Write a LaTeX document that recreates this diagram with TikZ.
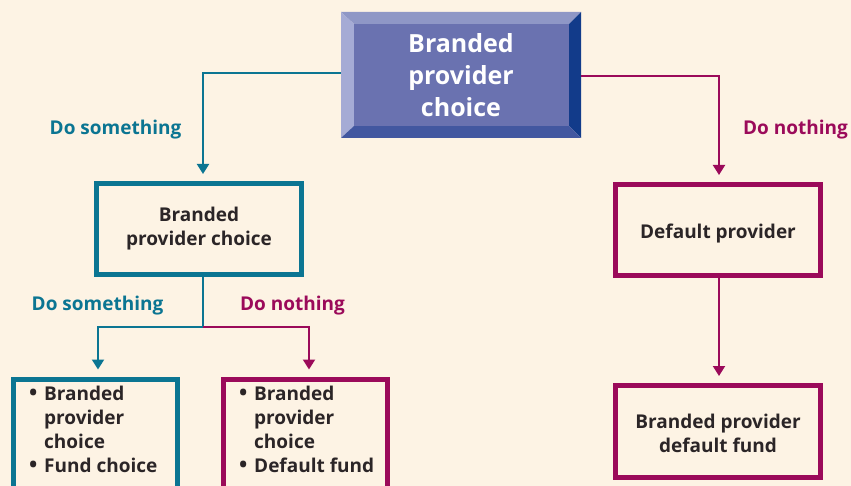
\documentclass[tikz,border=0pt]{standalone}
\usepackage{fontspec}
\setmainfont{Open Sans}
\usetikzlibrary{arrows.meta}
\definecolor{bg}{HTML}{FDF3E4}
\definecolor{teal}{HTML}{0B7592}
\definecolor{mag}{HTML}{9B0A5A}
\definecolor{txt}{HTML}{2B2527}
\definecolor{bvtop}{HTML}{8F97C6}
\definecolor{bvleft}{HTML}{A5ABD5}
\definecolor{bvface}{HTML}{6A72B0}
\definecolor{bvright}{HTML}{123B8A}
\definecolor{bvbot}{HTML}{4257A0}
\newcommand{\bul}{\makebox[15pt][l]{\fontsize{22}{24}\selectfont\textbullet}}
\newcommand{\nob}{\makebox[15pt][l]{}}
\newcommand{\lowr}[2]{\raisebox{-#1}[\height][\depth]{#2}}
\tikzset{
  boxt/.style={draw=teal,line width=5pt,minimum width=205pt,minimum height=91pt,inner sep=0pt,align=center,
    text=txt,font=\bfseries\fontsize{19}{24}\selectfont},
  boxm/.style={boxt,draw=mag},
  lbl/.style={font=\bfseries\fontsize{19}{24}\selectfont,inner sep=0pt},
  bultxt/.style={align=left,text=txt,font=\bfseries\fontsize{19}{24}\selectfont,inner sep=0pt,anchor=north west},
  conn/.style={line width=2pt},
  arr/.style={conn,-{Triangle[width=12pt,length=10pt]}},
}
\begin{document}
\begin{tikzpicture}[x=1pt,y=-1pt]
\useasboundingbox (0,0) rectangle (851,486);
\fill[bg] (0,0) rectangle (851,486);
\clip (0,0) rectangle (851,486);
% top bevelled box
\node[minimum width=240pt,minimum height=126pt,inner sep=0pt] (top) at (461,75) {};
\fill[bvtop] (341,12) -- (581,12) -- (569,24) -- (354,24) -- cycle;
\fill[bvleft] (341,12) -- (354,24) -- (354,126) -- (341,138) -- cycle;
\fill[bvright] (581,12) -- (581,138) -- (569,126) -- (569,24) -- cycle;
\fill[bvbot] (341,138) -- (581,138) -- (569,126) -- (354,126) -- cycle;
\fill[bvface] (354,24) rectangle (569,126);
\node[text=white,font=\bfseries\fontsize{25}{32}\selectfont,align=center,inner sep=0pt] (toptxt) at (461,75) {Branded\\provider\\choice};
% second level
\node[boxt] (bpc) at (199,229) {Branded\\provider choice};
\node[boxm] (dp) at (718,230) {\lowr{4pt}{Default provider}};
\node[boxm,minimum height=92pt] (bpdf) at (718,431.5) {\lowr{2pt}{Branded provider}\\\lowr{2pt}{default fund}};
% bottom boxes
\node[draw=teal,line width=5pt,minimum width=164pt,minimum height=150pt,inner sep=0pt,anchor=north] (b1) at (95.5,376.5) {};
\node[draw=mag,line width=5pt,minimum width=164pt,minimum height=150pt,inner sep=0pt,anchor=north] (b2) at (305.5,376.5) {};
\node[bultxt] (b1t) at (29,386) {\bul Branded\\\nob provider\\\nob choice\\\bul Fund choice};
\node[bultxt] (b2t) at (239,386) {\bul Branded\\\nob provider\\\nob choice\\\bul Default fund};
% connectors
\coordinate (tl) at (top.west |- 0,73);
\coordinate (tr) at (top.east |- 0,76);
\draw[arr,teal,shorten >=7pt] (tl) -| (bpc.north -| 203,0);
\draw[arr,mag,shorten >=7pt] (tr) -| (dp.north -| 719,0);
\draw[arr,mag,shorten >=7pt] (dp.south -| 719,0) -- (bpdf.north -| 719,0);
\coordinate (bs) at (bpc.south -| 203,0);
\coordinate (j) at (203,327);
\draw[conn,teal] (bs) -- (j);
\draw[arr,teal,shorten >=7pt] (j) -| (b1.north -| 98,0);
\draw[arr,mag,shorten >=7pt] (j) -| (b2.north -| 309,0);
% labels
\node[lbl,text=teal] (l1) at (115.5,130) {Do something};
\node[lbl,text=mag] (l2) at (795.5,130) {Do nothing};
\node[lbl,text=teal] (l3) at (97.5,306) {Do something};
\node[lbl,text=mag] (l4) at (292.5,306) {Do nothing};
\end{tikzpicture}
\end{document}
